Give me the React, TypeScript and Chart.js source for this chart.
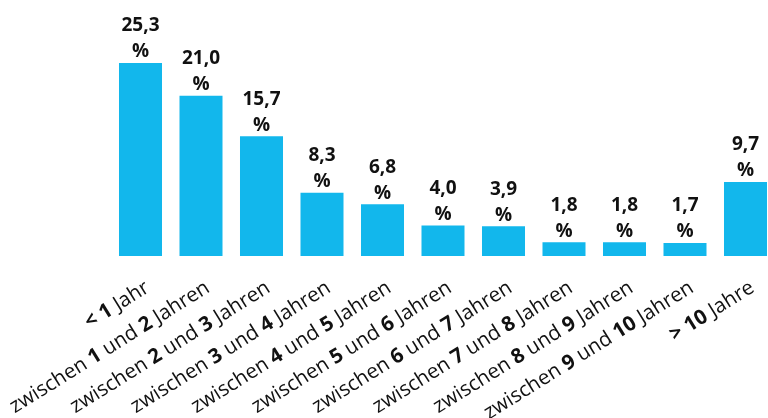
import React, { useEffect, useRef } from "react";
import { Chart, registerables } from "chart.js";

Chart.register(...registerables);

const categories = [
  "< 1 Jahr",
  "zwischen 1 und 2 Jahren",
  "zwischen 2 und 3 Jahren",
  "zwischen 3 und 4 Jahren",
  "zwischen 4 und 5 Jahren",
  "zwischen 5 und 6 Jahren",
  "zwischen 6 und 7 Jahren",
  "zwischen 7 und 8 Jahren",
  "zwischen 8 und 9 Jahren",
  "zwischen 9 und 10 Jahren",
  "> 10 Jahre",
];
const values = [25.3, 21.0, 15.7, 8.3, 6.8, 4.0, 3.9, 1.8, 1.8, 1.7, 9.7];

const BAR_COLOR = "#12B7EC";
const TEXT_COLOR = "#111111";
const FONT = "'Open Sans', 'DejaVu Sans', sans-serif";

function segments(label: string) {
  // numbers and comparison signs are bold
  const parts: { t: string; b: boolean }[] = [];
  const re = /([<>]\s*\d+|\d+)/g;
  let last = 0;
  let m: RegExpExecArray | null;
  while ((m = re.exec(label))) {
    if (m.index > last) parts.push({ t: label.slice(last, m.index), b: false });
    parts.push({ t: m[0], b: true });
    last = m.index + m[0].length;
  }
  if (last < label.length) parts.push({ t: label.slice(last), b: false });
  return parts;
}

const labelPlugin = {
  id: "customLabels",
  afterDatasetsDraw(chart: any) {
    const ctx = chart.ctx as CanvasRenderingContext2D;
    const meta = chart.getDatasetMeta(0);
    ctx.save();
    ctx.fillStyle = TEXT_COLOR;
    meta.data.forEach((bar: any, i: number) => {
      const v = values[i].toFixed(1).replace(".", ",");
      ctx.font = `bold 19px ${FONT}`;
      ctx.textAlign = "center";
      ctx.textBaseline = "middle";
      ctx.fillText(v, bar.x, bar.y - 37);
      ctx.fillText("%", bar.x, bar.y - 11);

      // x-axis labels, rotated, mixed weight
      const segs = segments(categories[i]);
      const fontFor = (b: boolean) => `${b ? "bold " : ""}20.5px ${FONT}`;
      let total = 0;
      segs.forEach((s) => {
        ctx.font = fontFor(s.b);
        total += ctx.measureText(s.t).width;
      });
      ctx.save();
      ctx.translate(bar.x + 10, chart.chartArea.bottom + 35);
      ctx.rotate((-32 * Math.PI) / 180);
      ctx.textAlign = "left";
      ctx.textBaseline = "alphabetic";
      let x = -total;
      segs.forEach((s) => {
        ctx.font = fontFor(s.b);
        ctx.fillText(s.t, x, 0);
        x += ctx.measureText(s.t).width;
      });
      ctx.restore();
    });
    ctx.restore();
  },
};

export default function App() {
  const ref = useRef<HTMLCanvasElement | null>(null);
  useEffect(() => {
    if (!ref.current) return;
    const chart = new Chart(ref.current, {
      type: "bar",
      data: {
        labels: categories,
        datasets: [
          {
            data: values,
            backgroundColor: BAR_COLOR,
            borderWidth: 0,
            barPercentage: 0.711,
            categoryPercentage: 1,
          },
        ],
      },
      options: {
        responsive: false,
        animation: false,
        layout: { padding: { left: 110.25, right: 24.25, top: 0, bottom: 162 } },
        plugins: { legend: { display: false }, tooltip: { enabled: false } },
        scales: {
          x: { display: false },
          y: { display: false, min: 0, max: 33.56 },
        },
      },
      plugins: [labelPlugin],
    });
    return () => chart.destroy();
  }, []);
  return (
    <div
      style={{
        position: "fixed",
        left: 0,
        top: 0,
        width: 768,
        height: 418,
        overflow: "hidden",
        background: "#fff",
      }}
    >
      <canvas ref={ref} width={800} height={418} style={{ display: "block" }} />
    </div>
  );
}
